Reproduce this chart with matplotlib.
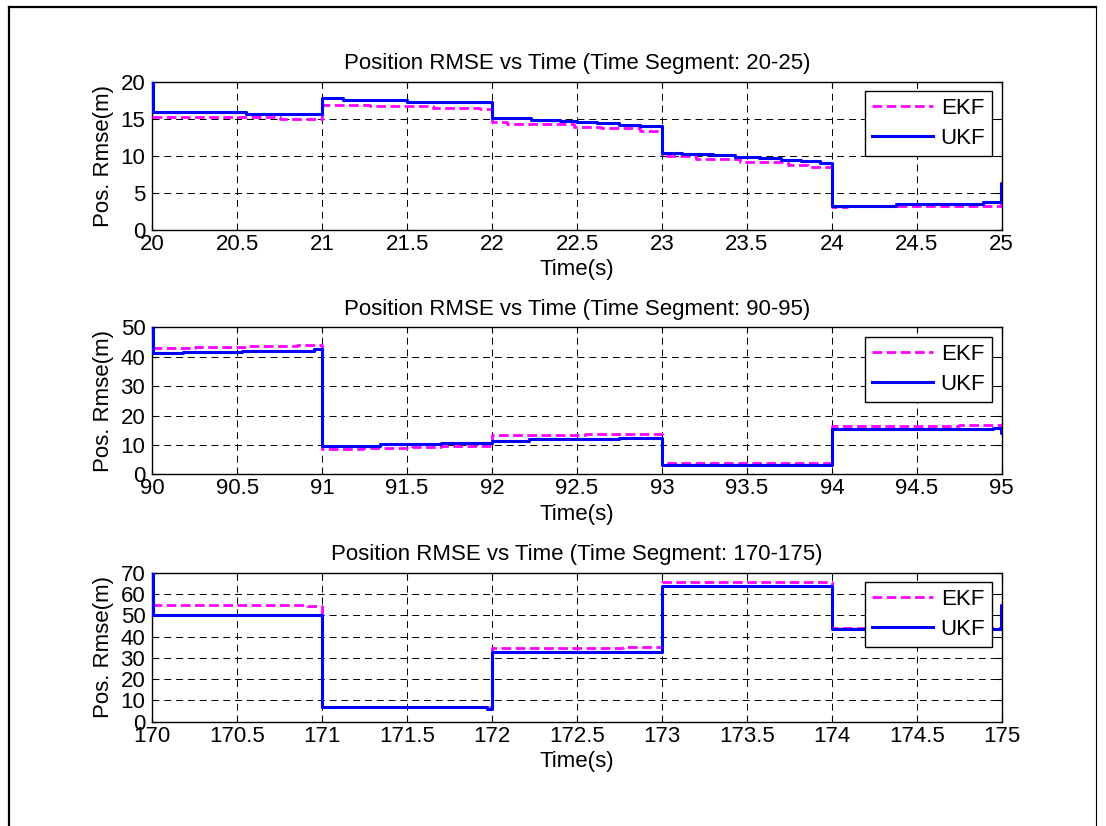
import matplotlib
matplotlib.use("Agg")
import matplotlib.pyplot as plt
from matplotlib.lines import Line2D

plt.rcParams['font.family'] = ['Liberation Sans', 'DejaVu Sans']
plt.rcParams['lines.scale_dashes'] = False

# ---- data: step breakpoints (time, RMSE) for each segment ----
seg1_ekf_t = [20.0, 20.75, 21.0, 21.28, 21.65, 21.93, 22.0, 22.09, 22.48, 22.64, 22.87,
              23.0, 23.2, 23.46, 23.74, 23.86, 24.0, 24.09, 24.995, 25.0]
seg1_ekf_v = [15.2, 14.97, 16.9, 16.7, 16.5, 16.35, 14.5, 14.25, 13.93, 13.7, 13.3,
              9.98, 9.53, 9.2, 8.76, 8.54, 3.06, 3.28, 3.6, 3.6]
seg1_ukf_t = [20.0, 20.004, 20.55, 21.0, 21.12, 21.5, 21.8, 22.0, 22.23, 22.4, 22.5,
              22.62, 22.75, 22.87, 23.0, 23.12, 23.3, 23.43, 23.57, 23.7, 23.82, 23.93,
              24.0, 24.38, 24.89, 24.995, 25.0]
seg1_ukf_v = [20.0, 15.9, 15.6, 17.75, 17.5, 17.3, 17.2, 15.05, 14.9, 14.75, 14.6,
              14.4, 14.2, 14.05, 10.4, 10.25, 10.07, 9.9, 9.7, 9.45, 9.26, 9.08,
              3.28, 3.55, 3.78, 6.3, 6.3]

seg2_ekf_t = [90.0, 90.25, 90.55, 90.85, 91.0, 91.24, 91.53, 91.7, 92.0, 92.55,
              93.0, 94.0, 94.75, 95.0]
seg2_ekf_v = [42.9, 43.4, 43.7, 44.1, 8.5, 9.1, 9.4, 9.7, 13.3, 13.8,
              4.0, 16.5, 16.9, 16.9]
seg2_ukf_t = [90.0, 90.004, 90.18, 90.53, 90.95, 91.0, 91.34, 91.7, 92.0, 92.22,
              92.75, 93.0, 94.0, 94.95, 94.995, 95.0]
seg2_ukf_v = [50.0, 41.2, 41.6, 42.1, 42.5, 9.6, 10.2, 10.66, 11.3, 11.9,
              12.45, 3.2, 15.3, 15.8, 14.1, 14.1]

seg3_ekf_t = [170.0, 170.91, 171.0, 172.0, 172.77, 173.0, 174.0, 174.995, 175.0]
seg3_ekf_v = [55.0, 54.3, 6.9, 34.4, 35.1, 65.8, 44.2, 56.0, 56.0]
seg3_ukf_t = [170.0, 170.004, 171.0, 171.97, 172.0, 173.0, 174.0, 174.995, 175.0]
seg3_ukf_v = [70.0, 50.3, 6.7, 5.9, 32.7, 63.7, 43.4, 54.8, 54.8]

segments = [(20, 25), (90, 95), (170, 175)]
y_limits = [20, 50, 70]
y_steps = [5, 10, 10]
ekf_series = [(seg1_ekf_t, seg1_ekf_v), (seg2_ekf_t, seg2_ekf_v), (seg3_ekf_t, seg3_ekf_v)]
ukf_series = [(seg1_ukf_t, seg1_ukf_v), (seg2_ukf_t, seg2_ukf_v), (seg3_ukf_t, seg3_ukf_v)]

W, H = 1106, 826
fig = plt.figure(figsize=(W / 100, H / 100), dpi=100)

# outer frame
fig.add_artist(Line2D([9 / W, 9 / W], [0, 1 - 7 / H], transform=fig.transFigure, color='k', lw=1.6))
fig.add_artist(Line2D([9 / W, 1096 / W], [1 - 7 / H, 1 - 7 / H], transform=fig.transFigure, color='k', lw=1.6))
fig.add_artist(Line2D([1096 / W, 1096 / W], [0, 1 - 7 / H], transform=fig.transFigure, color='k', lw=0.8))

FS = 16
ax_rects = [(152.3, 81.7, 230.0), (152.3, 327.3, 474.3), (152.3, 572.7, 721.7)]
right = 1001.7

for i, ((t0, t1), ymax, ystep) in enumerate(zip(segments, y_limits, y_steps)):
    left, top, bottom = ax_rects[i]
    ax = fig.add_axes([left / W, 1 - bottom / H, (right - left) / W, (bottom - top) / H])
    et, ev = ekf_series[i]
    ut, uv = ukf_series[i]
    ax.plot(et, ev, drawstyle='steps-post', color='#ff00ff', lw=2.0,
            linestyle=(0, (7.0, 3.2)), label='EKF', zorder=3)
    ax.plot(ut, uv, drawstyle='steps-post', color='#0000ff', lw=2.2, label='UKF', zorder=4)
    ax.set_xlim(t0, t1)
    ax.set_ylim(0, ymax)
    xt = [t0 + 0.5 * k for k in range(11)]
    ax.set_xticks(xt)
    ax.set_xticklabels([('%g' % v) for v in xt])
    yt = list(range(0, ymax + 1, ystep))
    ax.set_yticks(yt)
    ax.set_yticklabels([str(v) for v in yt])
    ax.grid(True, color='k', lw=0.7, linestyle=(0, (5.0, 3.5)))
    ax.tick_params(direction='in', length=4, width=0.8, top=True, right=True,
                   labelsize=FS, pad=3)
    ax.tick_params(axis='y', pad=5)
    for s in ax.spines.values():
        s.set_linewidth(1.0)
    ax.set_xlabel('Time(s)', fontsize=FS, labelpad=3)
    ax.set_ylabel('Pos. Rmse(m)', fontsize=FS, labelpad=4.5)
    ax.set_title('Position RMSE vs Time (Time Segment: %d-%d)' % (t0, t1), fontsize=FS, pad=9)
    leg = ax.legend(loc='upper right', fontsize=FS, fancybox=False, edgecolor='k',
                    framealpha=1, borderaxespad=0.42, handlelength=2.75, handletextpad=0.35,
                    labelspacing=0.4, borderpad=0.32)
    leg.get_frame().set_linewidth(1.0)
    leg.set_zorder(10)

fig.savefig('out.png', dpi=100)
